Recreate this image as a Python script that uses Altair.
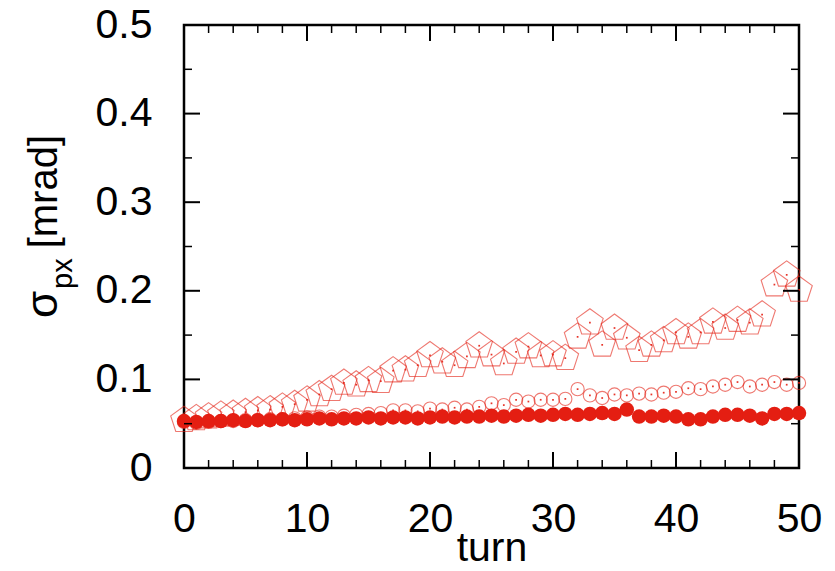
import altair as alt
import pandas as pd

turns = list(range(51))

filled = [0.053, 0.052, 0.053, 0.053, 0.054, 0.053, 0.054, 0.054, 0.055, 0.054, 0.055,
          0.056, 0.055, 0.056, 0.056, 0.057, 0.056, 0.057, 0.057, 0.056, 0.057,
          0.058, 0.057, 0.058, 0.058, 0.059, 0.058, 0.059, 0.060, 0.059, 0.060,
          0.061, 0.060, 0.061, 0.062, 0.061, 0.066, 0.058, 0.058, 0.059, 0.058,
          0.055, 0.055, 0.058, 0.060, 0.060, 0.059, 0.056, 0.061, 0.061, 0.062]

opened = [0.052, 0.051, 0.052, 0.053, 0.053, 0.054, 0.054, 0.055, 0.055, 0.056, 0.057,
          0.058, 0.058, 0.059, 0.060, 0.061, 0.062, 0.065, 0.065, 0.064, 0.067,
          0.066, 0.068, 0.066, 0.069, 0.073, 0.071, 0.077, 0.075, 0.077, 0.077,
          0.078, 0.089, 0.082, 0.079, 0.083, 0.082, 0.084, 0.083, 0.085, 0.086,
          0.090, 0.089, 0.092, 0.094, 0.097, 0.092, 0.094, 0.097, 0.094, 0.096]

penta = [0.054, 0.056, 0.058, 0.060, 0.061, 0.063, 0.065, 0.066, 0.069, 0.072, 0.077,
         0.083, 0.089, 0.096, 0.094, 0.099, 0.098, 0.110, 0.111, 0.116, 0.127,
         0.120, 0.116, 0.126, 0.138, 0.128, 0.118, 0.131, 0.137, 0.127, 0.128,
         0.124, 0.148, 0.164, 0.139, 0.158, 0.147, 0.133, 0.139, 0.144, 0.153,
         0.148, 0.153, 0.165, 0.158, 0.167, 0.164, 0.173, 0.207, 0.218, 0.201]

x_major = [0, 10, 20, 30, 40, 50]
x_minor = [v for v in range(2, 50, 2) if v % 10 != 0]
y_major = [0, 0.1, 0.2, 0.3, 0.4, 0.5]
y_minor = [0.05, 0.15, 0.25, 0.35, 0.45]

W, H = 615, 443
FONT = "Liberation Sans"
RED = "#e41e12"
FS = 41

df = pd.DataFrame({"turn": turns, "filled": filled, "open": opened, "penta": penta})

xs = alt.Scale(domain=[0, 50], nice=False, zero=False)
ys = alt.Scale(domain=[0, 0.5], nice=False)

x_axis = alt.Axis(values=x_major, ticks=False, domain=False, grid=False,
                  labelFont=FONT, labelFontSize=FS, labelColor="black", labelPadding=31,
                  labelFlush=False, labelOverlap=False,
                  title="turn", titleFont=FONT, titleFontSize=FS, titleFontWeight="normal",
                  titleColor="black", titleBaseline="alphabetic", titleY=92, titleX=W / 2,
                  titleAlign="center", titleAnchor="middle")
y_axis = alt.Axis(values=y_major, ticks=False, domain=False, grid=False, format="~g",
                  labelFont=FONT, labelFontSize=FS, labelColor="black", labelPadding=32,
                  labelFlush=False, labelOverlap=False, title=None)

pent_path = "M0,-1L0.951,-0.309L0.588,0.809L-0.588,0.809L-0.951,-0.309Z"

base = alt.Chart(df)
X = alt.X("turn:Q", scale=xs, axis=x_axis, title="turn")

def Y(field):
    return alt.Y(field + ":Q", scale=ys, axis=y_axis, title=None)

pent_layer = base.mark_point(shape=pent_path, size=780, filled=False, stroke=RED,
                             strokeWidth=1.1, strokeOpacity=0.85).encode(x=X, y=Y("penta"))
pent_dot = base.mark_square(size=3, color=RED, opacity=0.9).encode(x=X, y=Y("penta"))
open_layer = base.mark_point(shape="circle", size=175, filled=False, stroke=RED,
                             strokeWidth=1.1, strokeOpacity=0.85).encode(x=X, y=Y("open"))
open_dot = base.mark_square(size=3, color=RED, opacity=0.9).encode(x=X, y=Y("open"))
filled_layer = base.mark_circle(size=210, color=RED, opacity=1).encode(x=X, y=Y("filled"))

def xticks(vals, length, width):
    d = alt.Chart(pd.DataFrame({"v": vals}))
    xv = alt.X("v:Q", scale=xs, axis=x_axis, title="turn")
    bottom = d.mark_rule(color="black", strokeWidth=width).encode(
        x=xv, y=alt.value(H), y2=alt.value(H - length))
    top = d.mark_rule(color="black", strokeWidth=width).encode(
        x=xv, y=alt.value(0), y2=alt.value(length))
    return [bottom, top]

def yticks(vals, length, width):
    d = alt.Chart(pd.DataFrame({"v": vals}))
    yv = alt.Y("v:Q", scale=ys, axis=y_axis, title=None)
    left = d.mark_rule(color="black", strokeWidth=width).encode(
        y=yv, x=alt.value(0), x2=alt.value(length))
    right = d.mark_rule(color="black", strokeWidth=width).encode(
        y=yv, x=alt.value(W), x2=alt.value(W - length))
    return [left, right]

tick_layers = (xticks(x_major, 16, 2) + xticks(x_minor, 8, 1.5)
               + yticks(y_major, 16, 2) + yticks(y_minor, 8, 1.5))

def label(txt, x, y, size, align):
    return alt.Chart(pd.DataFrame({"t": [txt]})).mark_text(
        angle=270, align=align, baseline="alphabetic", font=FONT, fontSize=size,
        color="black").encode(text="t:N", x=alt.value(x), y=alt.value(y))

ytitle = [
    label("σ", 57 - 184, 318 - 25, 44, "left"),
    label("px", 72 - 184, 289 - 25, 29, "left"),
    label("[mrad]", 57 - 184, 135 - 25, 40, "right"),
]

chart = alt.layer(
    pent_layer, pent_dot, open_layer, open_dot, filled_layer, *tick_layers, *ytitle
).properties(
    width=W, height=H,
    autosize=alt.AutoSizeParams(type="none"),
    padding={"left": 184, "top": 25, "right": 36, "bottom": 103},
    background="white",
).configure_view(stroke="black", strokeWidth=2.5)

chart.save("out.html", embed_options={"renderer": "svg", "actions": False})
